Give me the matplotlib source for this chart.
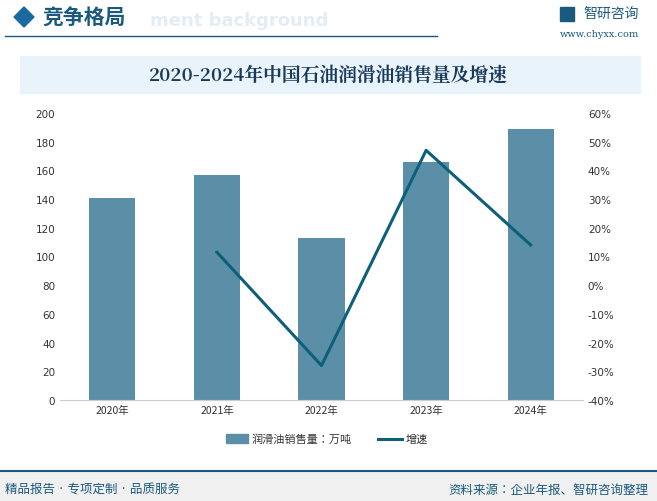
import matplotlib
matplotlib.use("Agg")
import matplotlib.pyplot as plt
from matplotlib import font_manager as fm
from matplotlib.patches import Rectangle, Polygon
from matplotlib.lines import Line2D

cjk = sorted({f.name for f in fm.fontManager.ttflist if "CJK" in f.name})
sans = [n for n in cjk if "Sans" in n]
serif = [n for n in cjk if "Serif" in n]
cjk_sans = ("Noto Sans CJK SC" if "Noto Sans CJK SC" in sans else (sans[0] if sans else (cjk[0] if cjk else "DejaVu Sans")))
cjk_serif = serif[0] if serif else cjk_sans
plt.rcParams["font.family"] = "sans-serif"
plt.rcParams["font.sans-serif"] = ["DejaVu Sans", cjk_sans]

years = ["2020年", "2021年", "2022年", "2023年", "2024年"]
sales = [141, 157, 113, 166, 189]
growth_years = ["2021年", "2022年", "2023年", "2024年"]
growth = [11.5, -28.0, 47.0, 14.0]

W, H = 657, 502
fig = plt.figure(figsize=(W/100, H/100), dpi=100)
fc = "#1a5a7e"

# header
fig.patches.append(Polygon([[14/W, 1-18/H], [24/W, 1-8/H], [34/W, 1-18/H], [24/W, 1-28/H]], closed=True, transform=fig.transFigure, color="#1a6aa0"))
fig.text(150/W, 1-21/H, "ment background", fontsize=13, color="#e3edf5", va="center", weight="bold", zorder=0)
fig.text(42/W, 1-18/H, "竞争格局", fontsize=15, color=fc, va="center", weight="bold", family=cjk_sans)
fig.add_artist(Line2D([5/W, 437/W], [1-37/H, 1-37/H], color=fc, lw=1, transform=fig.transFigure))
fig.text(583/W, 1-14/H, "智研咨询", fontsize=10, color=fc, va="center", family=cjk_sans)
fig.text(560/W, 1-35/H, "www.chyxx.com", fontsize=7, color=fc, va="center", family="DejaVu Serif")
fig.patches.append(Rectangle((560/W, 1-22/H), 14/W, 14/H, transform=fig.transFigure, color=fc))

# title band
fig.patches.append(Rectangle((20/W, 1-94/H), 620/W, 37/H, transform=fig.transFigure, color="#e8f3fb"))
fig.text(328/W, 1-76/H, "2020-2024年中国石油润滑油销售量及增速", fontsize=13.5, color="#1a3a5a", ha="center", va="center", weight="bold", family=cjk_serif)

ax = fig.add_axes([60/W, 1-401/H, (583-60)/W, (401-114)/H])
x = list(range(len(years)))
ax.bar(x, sales, width=0.44, color="#5b8fa8")
ax.set_ylim(0, 200)
ax.set_yticks(range(0, 201, 20))
ax.set_xlim(-0.5, 4.5)
ax.set_xticks(x)
ax.set_xticklabels(years, family=cjk_sans)
ax2 = ax.twinx()
gx = [years.index(y) for y in growth_years]
ax2.plot(gx, growth, color="#0e5f7a", lw=2.2)
ax2.set_ylim(-40, 60)
ax2.set_yticks(range(-40, 61, 10))
ax2.set_yticklabels([f"{v}%" for v in range(-40, 61, 10)])
for a in (ax, ax2):
    for s in a.spines.values():
        s.set_visible(False)
    a.tick_params(length=0, labelsize=7.5, colors="#333333")
ax.spines["bottom"].set_visible(True)
ax.spines["bottom"].set_color("#cccccc")

# legend
fig.patches.append(Rectangle((226/W, 1-444/H), 22/W, 9/H, transform=fig.transFigure, color="#5b8fa8"))
fig.text(252/W, 1-440/H, "润滑油销售量：万吨", fontsize=8, va="center", color="#333333", family=cjk_sans)
fig.add_artist(Line2D([378/W, 402/W], [1-440/H, 1-440/H], color="#0e5f7a", lw=2.2, transform=fig.transFigure))
fig.text(406/W, 1-440/H, "增速", fontsize=8, va="center", color="#333333", family=cjk_sans)

# footer
fig.patches.append(Rectangle((0, 0), 1, 30/H, transform=fig.transFigure, color="#f0f0f0", zorder=-1))
fig.add_artist(Line2D([0, 1], [30/H, 30/H], color=fc, lw=1.5, transform=fig.transFigure))
fig.text(5/W, 12/H, "精品报告 · 专项定制 · 品质服务", fontsize=9, color=fc, va="center", family=cjk_sans)
fig.text(648/W, 12/H, "资料来源：企业年报、智研咨询整理", fontsize=9, color=fc, va="center", ha="right", family=cjk_sans)

fig.savefig("out.png", dpi=100)
